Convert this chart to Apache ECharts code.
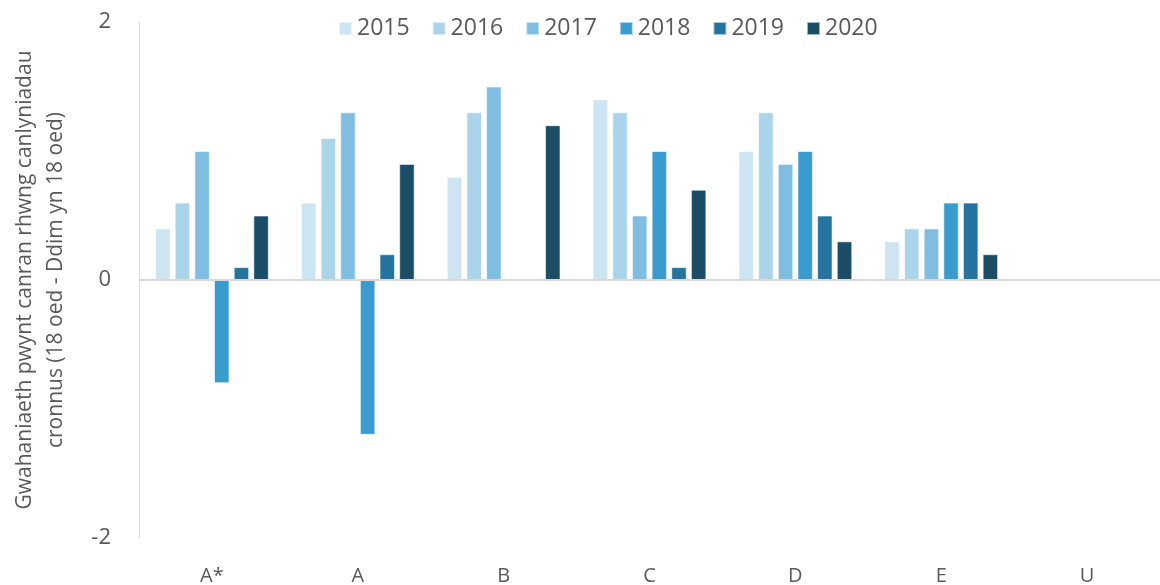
<!DOCTYPE html>
<html>
<head>
<meta charset="utf-8">
<script src="https://cdn.jsdelivr.net/npm/echarts@6/dist/echarts.min.js"></script>
<style>
  html, body { margin: 0; padding: 0; background: #fff; }
  #main { width: 1160px; height: 585px; }
</style>
</head>
<body>
<div id="main"></div>
<script>
const myChart = echarts.init(document.getElementById('main'));

const grades = ['A*', 'A', 'B', 'C', 'D', 'E', 'U'];
const years = ['2015', '2016', '2017', '2018', '2019', '2020'];
const colors = ['#cde5f2', '#a9d4ea', '#7fbee0', '#3a9bcf', '#2574a0', '#1b4d66'];

const v2015 = [0.4, 0.6, 0.8, 1.4, 1.0, 0.3, 0];
const v2016 = [0.6, 1.1, 1.3, 1.3, 1.3, 0.4, 0];
const v2017 = [1.0, 1.3, 1.5, 0.5, 0.9, 0.4, 0];
const v2018 = [-0.8, -1.2, 0, 1.0, 1.0, 0.6, 0];
const v2019 = [0.1, 0.2, 0, 0.1, 0.5, 0.6, 0];
const v2020 = [0.5, 0.9, 1.2, 0.7, 0.3, 0.2, 0];
const values = [v2015, v2016, v2017, v2018, v2019, v2020];

const yTicks = [-2, 0, 2];

const series = years.map((y, i) => ({
    name: y,
    type: 'bar',
    data: values[i],
    barGap: '27%',
    barCategoryGap: '22%',
    itemStyle: {
        color: colors[i],
        borderColor: 'rgba(255,255,255,0.6)',
        borderWidth: 1
    }
}));

// zero line across the plot
series[0].markLine = {
    silent: true,
    symbol: 'none',
    label: { show: false },
    lineStyle: { color: '#d9d9d9', width: 2, type: 'solid' },
    data: [{ yAxis: 0 }]
};

const option = {
    animation: false,
    textStyle: { fontFamily: 'Open Sans' },
    color: colors,
    legend: {
        top: 12,
        left: 333,
        itemWidth: 13,
        itemHeight: 13,
        itemGap: 22,
        icon: 'rect',
        textStyle: { fontSize: 23, color: '#595959', fontFamily: 'Open Sans' },
        data: years
    },
    grid: { left: 139, right: 0, top: 22, bottom: 47, outerBoundsMode: 'none', containLabel: false },
    xAxis: {
        type: 'category',
        data: grades,
        axisLine: { show: false, onZero: false },
        axisTick: { show: false },
        axisLabel: { fontSize: 20, color: '#595959', margin: 28 }
    },
    yAxis: {
        type: 'value',
        min: -2,
        max: 2,
        interval: 2,
        name: 'Gwahaniaeth pwynt canran rhwng canlyniadau\ncronnus (18 oed - Ddim yn 18 oed)',
        nameLocation: 'middle',
        nameGap: 67,
        nameTextStyle: { fontSize: 21, color: '#595959', lineHeight: 31 },
        axisLine: { show: true, lineStyle: { color: '#d9d9d9', width: 1 } },
        axisTick: { show: false },
        splitLine: { show: false },
        axisLabel: {
            fontSize: 22,
            color: '#595959',
            margin: 28,
            formatter: v => yTicks.includes(v) ? String(v) : ''
        }
    },
    series: series
};

myChart.setOption(option);
</script>
</body>
</html>
